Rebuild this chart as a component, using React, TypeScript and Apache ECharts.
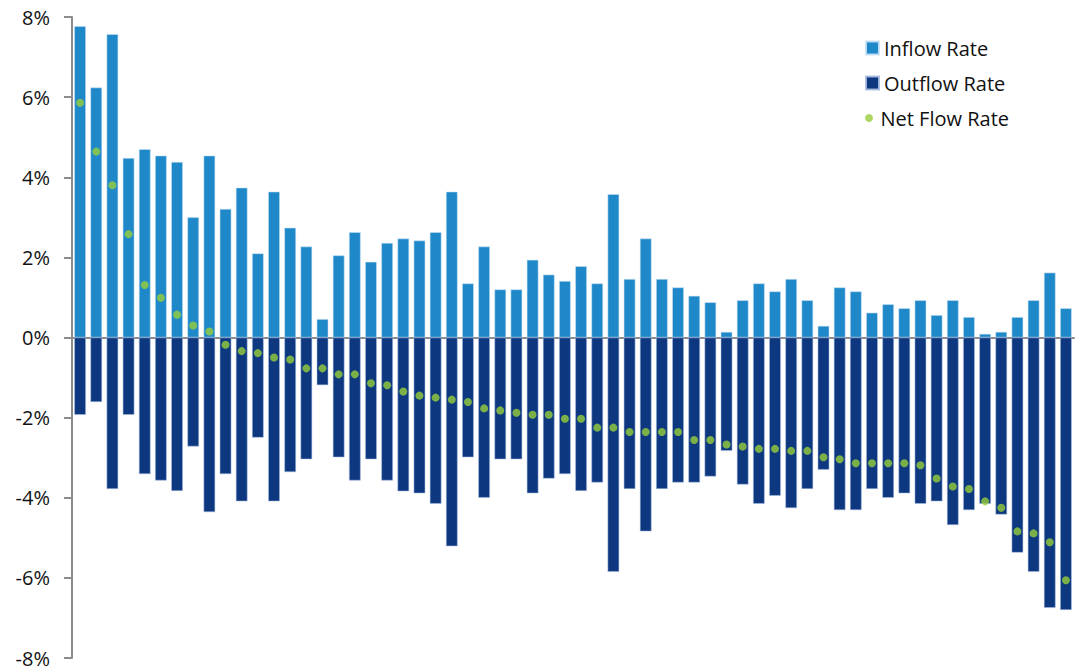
import React, { useEffect, useRef } from "react";
import * as echarts from "echarts";

// Monthly flow rates per unit, sorted by net flow (percent)
const categories: string[] = Array.from({ length: 62 }, (_, i) => `#${i + 1}`);

const inflowRate: number[] = [
  7.77, 6.24, 7.57, 4.48, 4.70, 4.54, 4.38, 3.00, 4.54, 3.21, 3.74, 2.10, 3.64,
  2.74, 2.27, 0.46, 2.05, 2.63, 1.89, 2.36, 2.47, 2.42, 2.63, 3.64, 1.35, 2.27,
  1.20, 1.20, 1.94, 1.57, 1.41, 1.78, 1.35, 3.58, 1.46, 2.47, 1.46, 1.25, 1.04,
  0.88, 0.14, 0.93, 1.35, 1.15, 1.46, 0.93, 0.29, 1.25, 1.15, 0.62, 0.83, 0.73,
  0.93, 0.56, 0.93, 0.51, 0.09, 0.14, 0.51, 0.93, 1.62, 0.73,
];

const outflowRate: number[] = [
  -1.93, -1.61, -3.78, -1.93, -3.41, -3.57, -3.83, -2.72, -4.36, -3.41, -4.09,
  -2.50, -4.09, -3.36, -3.04, -1.19, -2.99, -3.57, -3.04, -3.57, -3.84, -3.89,
  -4.15, -5.21, -2.99, -4.00, -3.04, -3.04, -3.89, -3.52, -3.41, -3.83, -3.62,
  -5.85, -3.78, -4.84, -3.78, -3.62, -3.62, -3.47, -2.83, -3.67, -4.15, -3.95,
  -4.26, -3.78, -3.30, -4.31, -4.31, -3.78, -4.00, -3.89, -4.15, -4.09, -4.68,
  -4.31, -4.15, -4.42, -5.37, -5.85, -6.75, -6.80,
];

const netFlowRate: number[] = [
  5.86, 4.64, 3.80, 2.58, 1.31, 0.99, 0.57, 0.30, 0.15, -0.18, -0.34, -0.39,
  -0.50, -0.55, -0.77, -0.77, -0.92, -0.92, -1.14, -1.19, -1.35, -1.45, -1.50,
  -1.55, -1.61, -1.77, -1.82, -1.88, -1.93, -1.93, -2.03, -2.03, -2.25, -2.25,
  -2.36, -2.36, -2.36, -2.36, -2.56, -2.56, -2.67, -2.72, -2.78, -2.78, -2.83,
  -2.83, -2.99, -3.04, -3.14, -3.14, -3.14, -3.14, -3.19, -3.52, -3.72, -3.78,
  -4.09, -4.25, -4.84, -4.89, -5.11, -6.06,
];

const yTicks = { min: -8, max: 8, interval: 2 };

const FONT = "'Open Sans', Lato, sans-serif";
const INFLOW = "#1F88C8";
const OUTFLOW = "#0D3880";
const NET = "#97CE3B";
const AXIS = "#8C8C8C";
const TEXT = "#111111";

// One legend block per entry so each row sits at its own height
const legendRow = (name: string, top: number, icon: string, h: number) => ({
  orient: "vertical",
  left: 865,
  top,
  padding: 0,
  itemWidth: 13,
  itemHeight: h,
  icon,
  data: [name],
  textStyle: { fontFamily: FONT, fontSize: 20, lineHeight: 20, color: TEXT },
});

export default function App() {
  const ref = useRef<HTMLDivElement>(null);

  useEffect(() => {
    if (!ref.current) return;
    const chart = echarts.init(ref.current, undefined, { renderer: "svg" });
    chart.setOption({
      animation: false,
      backgroundColor: "#ffffff",
      grid: { left: 72, right: 2, top: 17, bottom: 14, containLabel: false },
      legend: [
        legendRow("Inflow Rate", 38, "rect", 13),
        legendRow("Outflow Rate", 73, "rect", 13),
        legendRow("Net Flow Rate", 108, "circle", 8),
      ],
      xAxis: {
        type: "category",
        data: categories,
        axisLine: { onZero: true, lineStyle: { color: AXIS, width: 2 } },
        axisTick: { show: false },
        axisLabel: { show: false },
        splitLine: { show: false },
      },
      yAxis: {
        type: "value",
        min: yTicks.min,
        max: yTicks.max,
        interval: yTicks.interval,
        axisLine: { show: true, lineStyle: { color: AXIS, width: 2 } },
        axisTick: { show: true, inside: false, length: 8, lineStyle: { color: AXIS, width: 2 } },
        axisLabel: {
          margin: 22,
          formatter: (v: number) => `${v}%`,
          fontFamily: FONT,
          fontSize: 20,
          lineHeight: 20,
          color: TEXT,
        },
        splitLine: { show: false },
      },
      series: [
        {
          name: "Inflow Rate",
          type: "bar",
          data: inflowRate,
          barWidth: "72%",
          barGap: "-100%",
          itemStyle: { color: INFLOW, borderColor: "rgba(200,225,245,0.9)", borderWidth: 0.6 },
        },
        {
          name: "Outflow Rate",
          type: "bar",
          data: outflowRate,
          barWidth: "72%",
          barGap: "-100%",
          itemStyle: { color: OUTFLOW, borderColor: "rgba(170,190,225,0.9)", borderWidth: 0.6 },
        },
        {
          name: "Net Flow Rate",
          type: "scatter",
          data: netFlowRate,
          symbol: "circle",
          symbolSize: 8,
          itemStyle: { color: NET },
          z: 5,
        },
      ],
    });
    return () => chart.dispose();
  }, []);

  return (
    <div
      ref={ref}
      style={{ position: "fixed", left: 0, top: 0, width: 1076, height: 672, background: "#fff" }}
    />
  );
}
